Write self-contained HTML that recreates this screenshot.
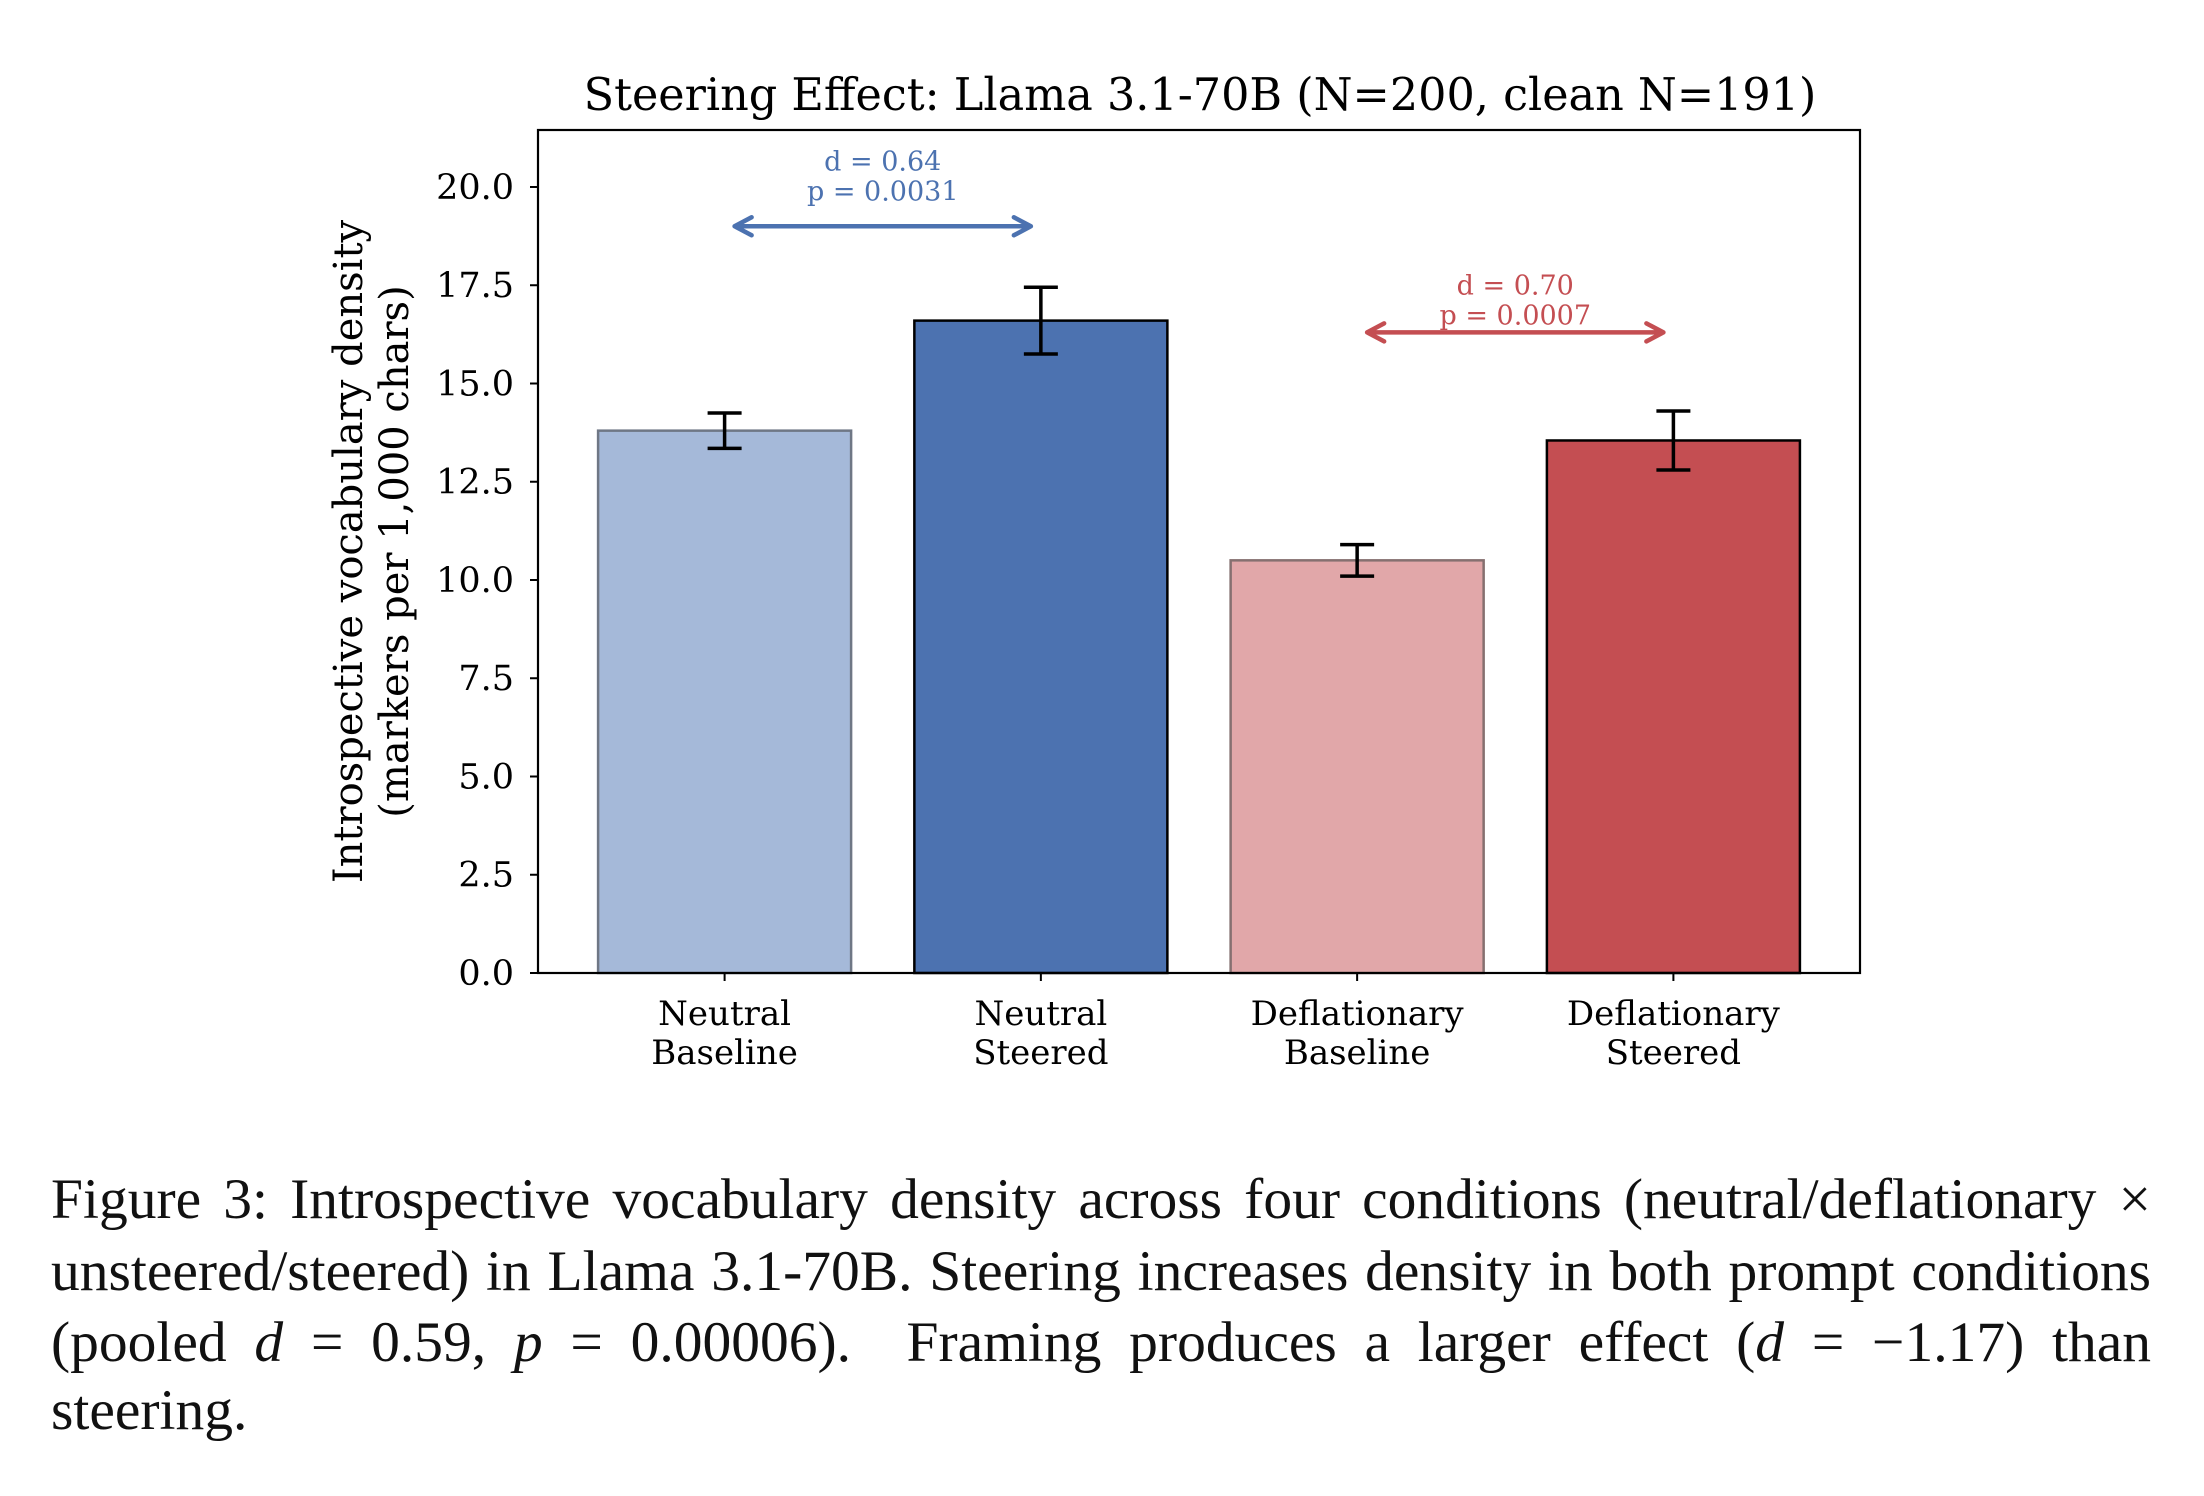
<!DOCTYPE html>
<html><head><meta charset="utf-8">
<style>
html,body{margin:0;padding:0;background:#fff;}
body{width:2204px;height:1496px;position:relative;overflow:hidden;}
svg{position:absolute;left:0;top:0;}
.cap{position:absolute;left:51px;width:2100px;font-family:"Liberation Serif",serif;font-size:57.5px;color:#111;white-space:nowrap;}
.j{text-align:justify;text-align-last:justify;white-space:normal;}
</style></head>
<body>
<svg id="chart" width="2204" height="1496" viewBox="0 0 2204 1496" font-family="DejaVu Serif, serif"></svg>
<div class="cap j" style="top:1167px;">Figure 3: Introspective vocabulary density across four conditions (neutral/deflationary ×</div>
<div class="cap j" style="top:1239px;">unsteered/steered) in Llama 3.1-70B. Steering increases density in both prompt conditions</div>
<div class="cap j" style="top:1310px;">(pooled <i>d</i> = 0.59, <i>p</i> = 0.00006). &nbsp;Framing produces a larger effect (<i>d</i> = −1.17) than</div>
<div class="cap" style="top:1378px;">steering.</div>
<script>
const categories = [["Neutral","Baseline"],["Neutral","Steered"],["Deflationary","Baseline"],["Deflationary","Steered"]];
const values = [13.8, 16.6, 10.5, 13.55];
const errors = [0.45, 0.85, 0.4, 0.75];
const yTicks = [0, 2.5, 5, 7.5, 10, 12.5, 15, 17.5, 20];
const yTickLabels = ["0.0","2.5","5.0","7.5","10.0","12.5","15.0","17.5","20.0"];
const comparisons = [{from:0,to:1,y:19.0,d:"d = 0.64",p:"p = 0.0031",off:56},{from:2,to:3,y:16.3,d:"d = 0.70",p:"p = 0.0007",off:38}];

const svg = document.getElementById('chart');
const NS = 'http://www.w3.org/2000/svg';
const L=538,R=1860,T=130,B=973;
const xmin=-0.59,xmax=3.59,ymin=0,ymax=21.45;
const X=v=>L+(v-xmin)/(xmax-xmin)*(R-L);
const Y=v=>B-(v-ymin)/(ymax-ymin)*(B-T);
const fills=['#a5b9d9','#4c72b0','#e1a7a9','#c44e52'];
const strokes=['#6f7785','#000','#857070','#000'];
function mk(tag,attrs,text){const e=document.createElementNS(NS,tag);for(const k in attrs)e.setAttribute(k,attrs[k]);if(text!==undefined)e.textContent=text;svg.appendChild(e);return e;}

values.forEach((v,i)=>{
  const w=0.8;
  const b=mk('rect',{x:X(i-w/2),y:Y(v),width:X(i+w/2)-X(i-w/2),height:Y(0)-Y(v),fill:fills[i],stroke:strokes[i],'stroke-width':2.5});
  
  
});
values.forEach((v,i)=>{
  const g=document.createElementNS(NS,'g');svg.appendChild(g);
  
  
  const lo=Y(v-errors[i]),hi=Y(v+errors[i]),cx=X(i);
  [[cx,lo,cx,hi],[cx-17,lo,cx+17,lo],[cx-17,hi,cx+17,hi]].forEach(s=>{
    const l=document.createElementNS(NS,'line');
    l.setAttribute('x1',s[0]);l.setAttribute('y1',s[1]);l.setAttribute('x2',s[2]);l.setAttribute('y2',s[3]);
    l.setAttribute('stroke','#000');l.setAttribute('stroke-width',3.5);g.appendChild(l);
  });
});
const fr=mk('rect',{x:L,y:T,width:R-L,height:B-T,fill:'none',stroke:'#000','stroke-width':2.2});


yTicks.forEach((t,i)=>{
  mk('line',{x1:L-8,y1:Y(t),x2:L,y2:Y(t),stroke:'#000','stroke-width':2});
  const tx=mk('text',{x:L-24,y:Y(t)+12,'text-anchor':'end','font-size':35,fill:'#000'},yTickLabels[i]);
  
  
});
categories.forEach((c,i)=>{
  mk('line',{x1:X(i),y1:B,x2:X(i),y2:B+8,stroke:'#000','stroke-width':2});
  const t=mk('text',{x:X(i),y:1025,'text-anchor':'middle','font-size':34,fill:'#000'},c[0]);
  
  
  const t2=mk('text',{x:X(i),y:1064,'text-anchor':'middle','font-size':34,fill:'#000'},c[1]);
  
  
});
const cc=['#4c72b0','#c44e52'];
comparisons.forEach((c,k)=>{
  const col=cc[k],x1=X(c.from)+10,x2=X(c.to)-10,y=Y(c.y);
  const g=document.createElementNS(NS,'g');svg.appendChild(g);
  
  
  const p=document.createElementNS(NS,'path');
  p.setAttribute('d',`M${x1} ${y}H${x2}M${x1+17} ${y-9}L${x1} ${y}L${x1+17} ${y+9}M${x2-17} ${y-9}L${x2} ${y}L${x2-17} ${y+9}`);
  p.setAttribute('stroke',col);p.setAttribute('stroke-width',4.5);p.setAttribute('fill','none');p.setAttribute('stroke-linecap','round');p.setAttribute('stroke-linejoin','round');
  g.appendChild(p);
  const mid=(X(c.from)+X(c.to))/2;
  const a=mk('text',{x:mid,y:y-c.off,'text-anchor':'middle','font-size':27,fill:col},c.d);
  
  
  const b=mk('text',{x:mid,y:y-c.off+30,'text-anchor':'middle','font-size':27,fill:col},c.p);
  
  
});
const ti=mk('text',{x:(L+R)/2+1,y:110,'text-anchor':'middle','font-size':44.5,fill:'#000'},'Steering Effect: Llama 3.1-70B (N=200, clean N=191)');


const cy=(T+B)/2;
const y1=mk('text',{x:0,y:0,'text-anchor':'middle','font-size':40,fill:'#000',transform:`translate(362 ${cy}) rotate(-90)`},'Introspective vocabulary density');


const y2=mk('text',{x:0,y:0,'text-anchor':'middle','font-size':40,fill:'#000',transform:`translate(408 ${cy}) rotate(-90)`},'(markers per 1,000 chars)');


</script>
</body></html>
